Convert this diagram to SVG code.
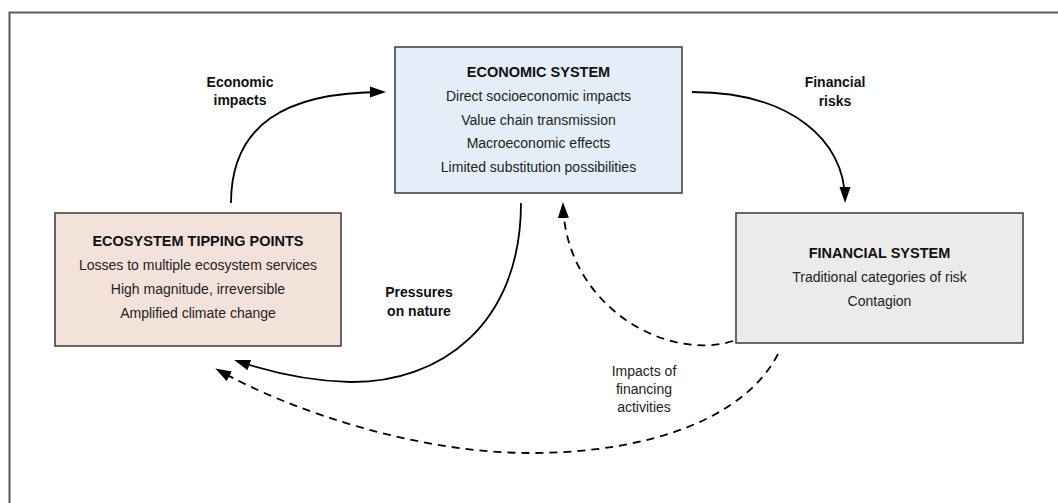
<svg xmlns="http://www.w3.org/2000/svg" width="1058" height="503" viewBox="0 0 1058 503">
<style>
.frame{fill:none;stroke:#5a5a5a;stroke-width:2}
.box{stroke:#3a3a3a;stroke-width:1.5}
.title{font-family:"Liberation Sans",Arial,sans-serif;font-size:14.5px;font-weight:bold;fill:#111;text-anchor:middle}
.body{font-family:"Liberation Sans",Arial,sans-serif;font-size:14px;fill:#222;text-anchor:middle}
.elabel{font-family:"Liberation Sans",Arial,sans-serif;font-size:14px;font-weight:bold;fill:#111;text-anchor:middle}
.nlabel{font-family:"Liberation Sans Narrow","Liberation Sans",Arial,sans-serif;font-size:14px;fill:#222;text-anchor:middle}
.conn{fill:none;stroke:#000;stroke-width:1.8}
.dash{stroke-dasharray:8 6}
</style>
<defs>
<marker id="ah" markerUnits="userSpaceOnUse" markerWidth="16" markerHeight="12" refX="13" refY="6" orient="auto">
<path d="M0,0.5 L16,6 L0,11.5 z" fill="#000"/>
</marker>
</defs>
<rect class="frame" x="9.5" y="12.5" width="1200" height="700"/>
<g id="connectors">
<path class="conn" d="M231,203 C231,125 285,92 383,92" marker-end="url(#ah)"/>
<path class="conn" d="M692,92 C790,92 845,140 845,200" marker-end="url(#ah)"/>
<path class="conn" d="M521,203 C521,325 440,383 350,382 C310,381 270,372 237,361" marker-end="url(#ah)"/>
<path class="conn dash" d="M733,341 C665,362 566,305 563,205" marker-end="url(#ah)"/>
<path class="conn dash" d="M778,354 C745,418 650,453 530,453 C420,453 295,413 218,370" marker-end="url(#ah)"/>
</g>
<g id="economic-system">
<rect class="box" x="395" y="47" width="287" height="146" fill="#e4eef8"/>
<text class="title" x="538.5" y="77">ECONOMIC SYSTEM</text>
<text class="body" x="538.5" y="101">Direct socioeconomic impacts</text>
<text class="body" x="538.5" y="124.5">Value chain transmission</text>
<text class="body" x="538.5" y="148">Macroeconomic effects</text>
<text class="body" x="538.5" y="171.5">Limited substitution possibilities</text>
</g>
<g id="ecosystem-tipping-points">
<rect class="box" x="55" y="213" width="286" height="133" fill="#f2e2da"/>
<text class="title" x="198" y="246">ECOSYSTEM TIPPING POINTS</text>
<text class="body" x="198" y="270">Losses to multiple ecosystem services</text>
<text class="body" x="198" y="294">High magnitude, irreversible</text>
<text class="body" x="198" y="318">Amplified climate change</text>
</g>
<g id="financial-system">
<rect class="box" x="736" y="213" width="287" height="130" fill="#ebebeb"/>
<text class="title" x="879.5" y="258">FINANCIAL SYSTEM</text>
<text class="body" x="879.5" y="282">Traditional categories of risk</text>
<text class="body" x="879.5" y="306">Contagion</text>
</g>
<g id="edge-labels">
<text class="elabel" x="240" y="87">Economic</text>
<text class="elabel" x="240" y="105">impacts</text>
<text class="elabel" x="835" y="87">Financial</text>
<text class="elabel" x="835" y="106">risks</text>
<text class="elabel" x="419" y="297">Pressures</text>
<text class="elabel" x="419" y="316">on nature</text>
<text class="nlabel" x="644" y="376">Impacts of</text>
<text class="nlabel" x="644" y="394">financing</text>
<text class="nlabel" x="644" y="412">activities</text>
</g>
</svg>
